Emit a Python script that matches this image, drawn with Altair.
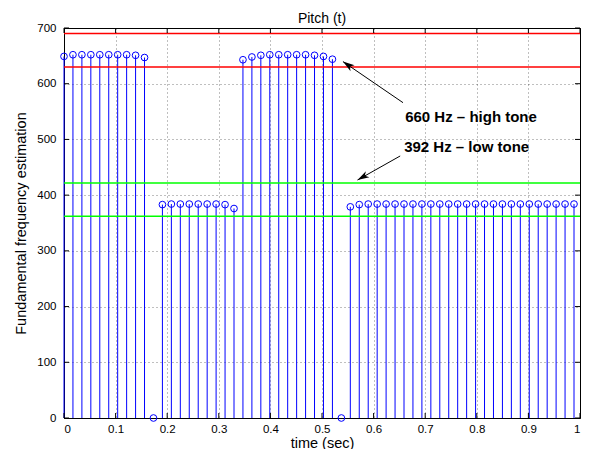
import altair as alt
import pandas as pd

# ---- data ----
frame_step = 0.01734  # seconds between pitch frames
pitch_hz = [649, 652, 652, 652, 652, 652, 652, 652, 651, 647,
            0,
            383, 384, 384, 384, 384, 384, 384, 383, 376,
            643, 648, 651, 652, 652, 652, 652, 652, 651, 649, 644,
            0,
            379, 383, 384, 384, 384, 384, 384, 384, 384, 384, 384, 384, 384,
            384, 384, 384, 384, 384, 384, 384, 384, 384, 384, 384, 384, 384]
time_s = [round(i * frame_step, 5) for i in range(len(pitch_hz))]

band_hz = [690, 630, 422, 362]
band_color = ["#ff0000", "#ff0000", "#00ff00", "#00ff00"]

x_ticks = [0, 0.1, 0.2, 0.3, 0.4, 0.5, 0.6, 0.7, 0.8, 0.9, 1]
y_ticks = [0, 100, 200, 300, 400, 500, 600, 700]

arrow_id = ["a1", "a1", "a2", "a2"]
arrow_t = [0.657, 0.5406, 0.6515, 0.5688]
arrow_f = [566, 639.7, 470.3, 427.1]
head_t = [0.5406, 0.5688]
head_f = [639.7, 427.1]
head_angle = [304.7, 240.3]

label_text = ["660 Hz \u2013 high tone", "392 Hz \u2013 low tone"]
label_t = [0.6612, 0.6592]
label_f = [532, 477.4]

W, H = 516, 390
FONT = "Liberation Sans"

pitch = pd.DataFrame({"t": time_s, "f": pitch_hz, "zero": [0] * len(pitch_hz)})
bands = pd.DataFrame({"f": band_hz, "c": band_color})
arrows = pd.DataFrame({"id": arrow_id, "t": arrow_t, "f": arrow_f})
heads = pd.DataFrame({"t": head_t, "f": head_f, "a": head_angle})
labels = pd.DataFrame({"text": label_text, "t": label_t, "f": label_f})
xt = pd.DataFrame({"t": x_ticks})
yt = pd.DataFrame({"f": y_ticks})

xscale = alt.Scale(domain=[0, 1], nice=False, zero=False)
yscale = alt.Scale(domain=[0, 700], nice=False)

x_axis = alt.Axis(values=x_ticks, format="~g", title="time (sec)",
                  titleBaseline="alphabetic", titleX=W / 2, titleY=29,
                  labelPadding=5)
y_axis = alt.Axis(values=y_ticks, format="d", title="Fundamental frequency estimation",
                  titleBaseline="alphabetic", titleAngle=-90, titleX=-39, titleY=H / 2,
                  labelPadding=8)

stems = alt.Chart(pitch).mark_rule(color="#0000ff", strokeWidth=1).encode(
    x=alt.X("t:Q", scale=xscale, axis=x_axis),
    y=alt.Y("zero:Q", scale=yscale, axis=y_axis),
    y2="f:Q",
)
dots = alt.Chart(pitch).mark_point(shape="circle", filled=False, color="#0000ff",
                                   size=45, strokeWidth=1, opacity=1).encode(
    x="t:Q", y="f:Q")

band_rules = alt.Chart(bands).mark_rule(strokeWidth=1.5).encode(
    y="f:Q", color=alt.Color("c:N", scale=None))

arrow_lines = alt.Chart(arrows).mark_line(color="black", strokeWidth=1).encode(
    x="t:Q", y="f:Q", detail="id:N")
arrow_heads = alt.Chart(heads).mark_point(
    shape="M0,0L0.55,1.8L0,1.3L-0.55,1.8Z", filled=True, color="black",
    size=169, opacity=1, strokeWidth=0).encode(
    x="t:Q", y="f:Q", angle=alt.Angle("a:Q", scale=None))
texts = alt.Chart(labels).mark_text(align="left", baseline="alphabetic",
                                    fontWeight="bold", fontSize=15, font=FONT,
                                    color="black").encode(
    x="t:Q", y="f:Q", text="text:N")

tick_b = alt.Chart(xt).mark_rule(color="black").encode(
    x="t:Q", y=alt.value(H), y2=alt.value(H - 5))
tick_t = alt.Chart(xt).mark_rule(color="black").encode(
    x="t:Q", y=alt.value(0), y2=alt.value(5))
tick_l = alt.Chart(yt).mark_rule(color="black").encode(
    y="f:Q", x=alt.value(0), x2=alt.value(5))
tick_r = alt.Chart(yt).mark_rule(color="black").encode(
    y="f:Q", x=alt.value(W), x2=alt.value(W - 5))

chart = alt.layer(
    stems, band_rules, dots, arrow_lines, arrow_heads, texts,
    tick_b, tick_t, tick_l, tick_r
).properties(
    width=W, height=H,
    title=alt.TitleParams("Pitch (t)", anchor="middle", frame="group", offset=5, dy=9,
                          fontSize=14, fontWeight="normal",
                          font=FONT, color="black"),
    autosize=alt.AutoSizeParams(type="none"),
    padding={"left": 56, "top": 20, "right": 4, "bottom": 31},
).configure(
    font=FONT, background="white"
).configure_view(
    stroke="black", strokeWidth=1
).configure_axis(
    domainColor="black", domainWidth=1, ticks=False,
    grid=True, gridColor="#000000", gridOpacity=0.5, gridDash=[1, 3], gridWidth=1,
    labelFont=FONT, labelFontSize=11.5, labelColor="black",
    titleFont=FONT, titleFontSize=14.5, titleFontWeight="normal", titleColor="black",
)

chart.save("out.html", embed_options={"renderer": "svg", "actions": False})
